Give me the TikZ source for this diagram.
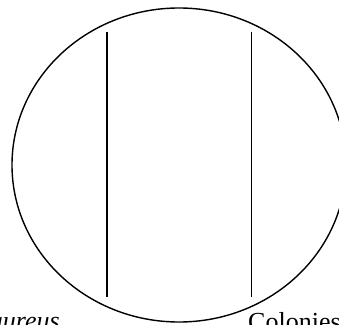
\documentclass[tikz,border=0pt]{standalone}
\usepackage{fontspec}
\setmainfont{Liberation Serif}
\begin{document}
\begin{tikzpicture}[x=1pt,y=1pt,
  outline/.style={line width=1.4pt,black},
  lbl/.style={inner sep=0pt,font=\fontsize{26}{31}\selectfont}]
\useasboundingbox (0,0) rectangle (339,324);
\clip (0,0) rectangle (339,324);
\draw[outline] (179,159) ellipse [x radius=167, y radius=157];
\coordinate (l1t) at (107,292.3);
\coordinate (l1b) at (107,27.5);
\coordinate (l2t) at (251.5,292.3);
\coordinate (l2b) at (251.5,27.5);
\draw[outline] (l1t) -- (l1b);
\draw[outline] (l2t) -- (l2b);
\node[lbl,anchor=base east] (aur) at (60,-5.5) {\itshape aureus};
\node[lbl,anchor=base west] (col) at (248,-6) {Colonies};
\end{tikzpicture}
\end{document}
